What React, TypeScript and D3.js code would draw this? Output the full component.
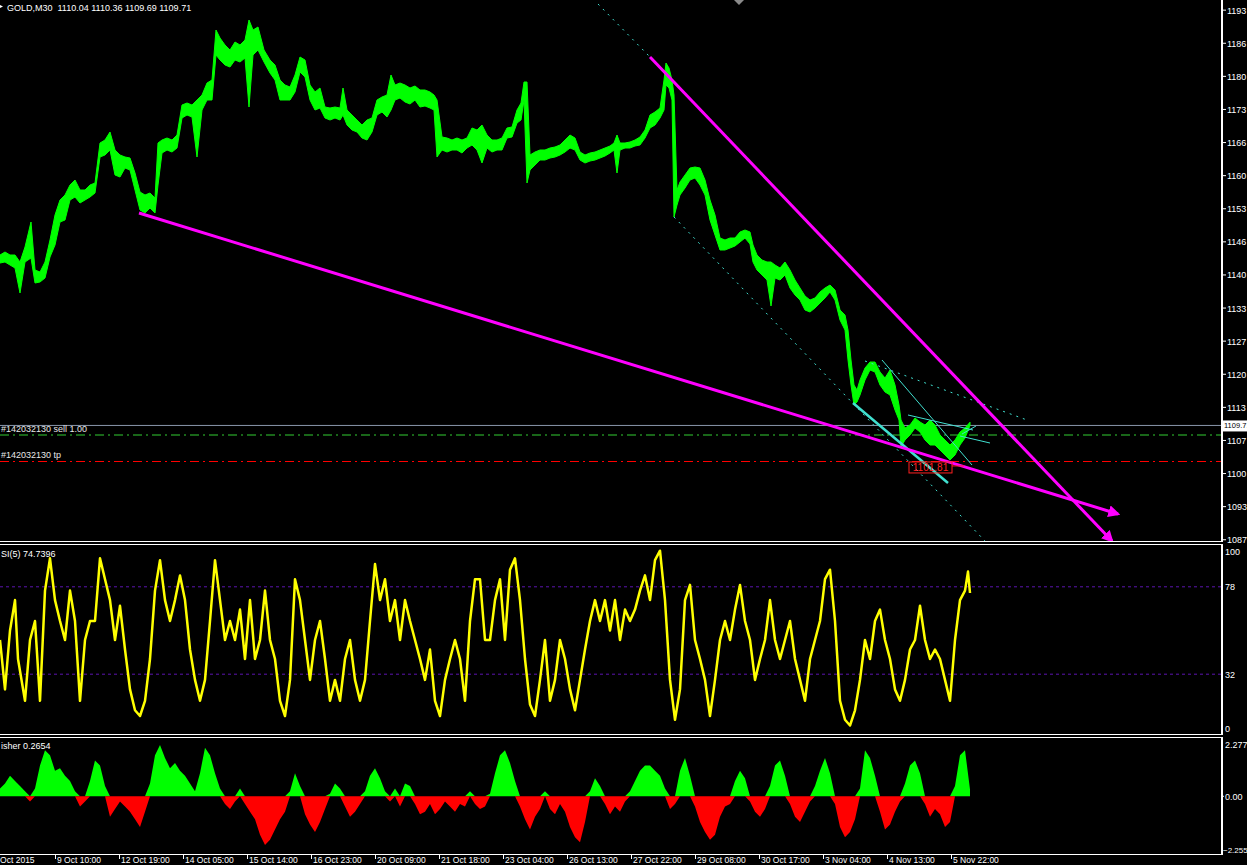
import * as d3 from 'd3'

const W = 1247
const H = 865
const AXIS_X = 1222

// last bar of GOLD M30
const symbol = 'GOLD,M30'
const lastOhlc = [1110.04, 1110.36, 1109.69, 1109.71]

// [bar, high, low], one sample every few bars
const goldBars: [number, number, number][] = [
  [0, 1143.8, 1142.2], [5, 1144.4, 1142.4], [10, 1143.8, 1141.8], [15, 1143.8, 1141.2], [20, 1142.4, 1136.2],
  [25, 1145.4, 1142.4], [31, 1150.4, 1143.2], [35, 1140.8, 1138.2], [40, 1140.4, 1138.4], [45, 1142.4, 1139.2],
  [50, 1146.8, 1143.4], [55, 1151.8, 1145.8], [60, 1154.8, 1150.4], [65, 1155.8, 1150.8], [70, 1157.8, 1154.8],
  [75, 1158.8, 1155.4], [80, 1156.8, 1154.2], [85, 1156.8, 1154.8], [90, 1157.8, 1155.4], [95, 1158.2, 1156.2],
  [100, 1166.2, 1163.4], [105, 1166.8, 1163.8], [110, 1168.4, 1164.8], [115, 1164.8, 1159.8], [120, 1163.8, 1159.4],
  [125, 1163.4, 1161.2], [130, 1163.2, 1160.8], [135, 1160.2, 1156.8], [140, 1156.4, 1152.8], [145, 1155.8, 1152.2],
  [150, 1156.2, 1153.2], [155, 1155.2, 1152.2], [158, 1166.2, 1157.8], [162, 1166.8, 1164.2], [167, 1167.2, 1164.8],
  [172, 1166.8, 1164.4], [177, 1167.8, 1165.2], [182, 1173.8, 1171.2], [187, 1174.2, 1171.8], [192, 1173.8, 1171.4],
  [197, 1174.8, 1163.4], [202, 1175.8, 1172.8], [207, 1178.2, 1174.8], [212, 1178.8, 1174.8], [216, 1188.8, 1183.8],
  [220, 1187.2, 1182.8], [225, 1185.8, 1181.8], [230, 1184.8, 1181.4], [235, 1186.4, 1182.8], [240, 1185.8, 1182.4],
  [245, 1186.8, 1183.2], [249, 1190.8, 1173.4], [253, 1188.8, 1183.8], [258, 1189.4, 1184.8], [264, 1184.8, 1182.4],
  [270, 1182.8, 1180.2], [275, 1181.8, 1178.8], [280, 1178.8, 1174.8], [285, 1177.8, 1174.8], [290, 1177.4, 1174.8],
  [295, 1179.8, 1176.4], [300, 1183.4, 1180.4], [305, 1182.8, 1179.4], [310, 1177.8, 1174.8], [315, 1176.4, 1172.8],
  [320, 1177.2, 1173.2], [325, 1173.4, 1171.2], [330, 1173.2, 1170.8], [335, 1173.4, 1171.2], [340, 1173.2, 1170.8],
  [343, 1177.2, 1171.8], [347, 1172.8, 1169.8], [352, 1171.8, 1168.8], [357, 1170.8, 1168.4], [362, 1169.8, 1167.2],
  [367, 1170.8, 1166.8], [372, 1171.2, 1168.4], [377, 1174.8, 1171.8], [382, 1175.4, 1172.4], [387, 1175.8, 1171.4],
  [391, 1179.8, 1172.8], [395, 1177.8, 1174.8], [400, 1178.2, 1175.2], [405, 1177.8, 1174.4], [410, 1177.2, 1174.0],
  [415, 1177.6, 1174.8], [420, 1176.8, 1173.4], [425, 1176.8, 1173.6], [430, 1176.4, 1173.2], [434, 1175.8, 1172.8],
  [437, 1174.8, 1163.4], [442, 1167.4, 1164.8], [447, 1167.2, 1164.4], [452, 1166.8, 1164.8], [457, 1167.2, 1164.8],
  [462, 1166.8, 1164.2], [467, 1167.2, 1165.2], [472, 1169.2, 1165.8], [477, 1168.8, 1164.8], [482, 1169.8, 1162.2],
  [487, 1167.8, 1165.2], [492, 1166.8, 1164.4], [497, 1166.8, 1164.8], [502, 1167.2, 1164.8], [507, 1169.2, 1167.2],
  [512, 1169.4, 1167.4], [517, 1172.8, 1170.2], [521, 1174.2, 1170.8], [524, 1178.4, 1174.8], [527, 1178.4, 1158.2],
  [530, 1163.8, 1160.8], [535, 1164.4, 1161.8], [540, 1164.8, 1162.8], [545, 1164.8, 1162.8], [550, 1165.2, 1163.2],
  [555, 1165.4, 1163.4], [560, 1165.8, 1163.8], [565, 1166.8, 1164.4], [570, 1167.8, 1165.2], [575, 1167.2, 1164.8],
  [580, 1164.4, 1162.8], [585, 1163.8, 1162.2], [590, 1164.2, 1162.6], [595, 1164.4, 1162.8], [600, 1164.8, 1163.2],
  [605, 1165.2, 1163.6], [610, 1165.6, 1164.2], [614, 1166.2, 1164.8], [617, 1167.8, 1160.2], [620, 1166.2, 1164.8],
  [625, 1166.2, 1165.2], [630, 1166.4, 1165.2], [635, 1166.8, 1165.6], [640, 1167.4, 1165.8], [645, 1168.8, 1167.2],
  [650, 1171.8, 1169.2], [655, 1172.4, 1169.8], [660, 1173.2, 1171.2], [664, 1178.8, 1172.8], [666, 1182.2, 1177.8],
  [669, 1181.2, 1177.2], [672, 1178.8, 1174.8], [674, 1175.8, 1151.4], [677, 1156.8, 1153.8], [680, 1158.4, 1155.8],
  [685, 1159.8, 1157.2], [690, 1161.2, 1158.8], [695, 1161.4, 1159.2], [700, 1161.2, 1157.8], [705, 1158.8, 1155.8],
  [710, 1154.8, 1150.8], [715, 1151.8, 1147.8], [720, 1147.2, 1144.8], [725, 1146.8, 1144.8], [730, 1147.2, 1145.2],
  [735, 1147.2, 1145.6], [740, 1148.4, 1146.4], [745, 1148.8, 1147.2], [750, 1148.4, 1146.0], [753, 1145.8, 1142.4],
  [757, 1143.8, 1140.8], [762, 1142.8, 1139.8], [767, 1142.4, 1138.8], [771, 1142.4, 1133.6], [775, 1141.8, 1139.2],
  [780, 1141.2, 1138.8], [785, 1142.4, 1139.8], [790, 1140.8, 1137.2], [795, 1138.8, 1135.8], [800, 1137.2, 1134.8],
  [805, 1135.6, 1132.8], [810, 1134.8, 1132.4], [815, 1135.2, 1133.2], [820, 1136.4, 1134.2], [825, 1137.2, 1135.2],
  [830, 1137.8, 1136.4], [835, 1136.8, 1134.8], [840, 1132.8, 1130.8], [845, 1131.8, 1128.8], [848, 1128.8, 1122.8],
  [851, 1122.8, 1117.8], [854, 1117.8, 1113.8], [857, 1116.8, 1114.4], [860, 1118.8, 1115.8], [865, 1121.2, 1118.8],
  [870, 1122.4, 1120.8], [875, 1122.4, 1120.4], [880, 1120.4, 1117.8], [885, 1119.2, 1116.4], [890, 1120.8, 1115.8],
  [895, 1117.8, 1112.8], [899, 1113.8, 1110.8], [901, 1110.8, 1105.4], [905, 1109.2, 1106.8], [910, 1109.8, 1107.8],
  [915, 1111.2, 1109.2], [920, 1110.4, 1108.4], [925, 1109.8, 1106.8], [930, 1110.8, 1105.8], [935, 1109.8, 1105.8],
  [940, 1107.8, 1104.8], [945, 1106.8, 1103.8], [950, 1105.8, 1102.8], [955, 1106.8, 1103.8], [960, 1108.4, 1105.8],
  [965, 1109.2, 1107.2], [970, 1110.36, 1109.69],
]

// RSI(5) [bar, value]
const rsiValues: [number, number][] = [
  [0, 50], [5, 24], [10, 55], [15, 71], [18, 40], [25, 18], [30, 50], [35, 60], [40, 18], [45, 76],
  [50, 93], [55, 71], [60, 60], [65, 50], [70, 76], [75, 60], [80, 18], [85, 50], [90, 60], [95, 60],
  [100, 93], [105, 82], [110, 71], [115, 50], [120, 68], [125, 45], [130, 24], [135, 13], [140, 10], [145, 18],
  [150, 40], [155, 76], [160, 92], [165, 71], [170, 60], [175, 71], [180, 84], [185, 71], [190, 45], [195, 29],
  [200, 18], [205, 29], [210, 60], [215, 92], [220, 71], [225, 50], [230, 60], [235, 50], [240, 66], [245, 40],
  [250, 71], [255, 40], [260, 50], [265, 76], [270, 50], [275, 40], [280, 18], [285, 10], [290, 29], [295, 82],
  [300, 71], [305, 50], [310, 29], [315, 50], [320, 60], [325, 40], [330, 18], [335, 29], [340, 18], [345, 40],
  [350, 50], [355, 29], [360, 18], [365, 29], [370, 60], [375, 90], [380, 71], [385, 82], [390, 60], [395, 71],
  [400, 50], [405, 71], [410, 60], [415, 50], [420, 40], [425, 29], [430, 45], [435, 18], [440, 10], [445, 29],
  [450, 40], [455, 50], [460, 40], [465, 18], [470, 60], [475, 82], [480, 82], [485, 50], [490, 50], [495, 71],
  [500, 82], [505, 50], [510, 87], [515, 93], [520, 71], [525, 40], [530, 16], [535, 10], [540, 29], [545, 50],
  [550, 18], [555, 29], [560, 50], [565, 40], [570, 24], [575, 13], [580, 29], [585, 45], [590, 60], [595, 71],
  [600, 60], [605, 71], [610, 55], [615, 71], [620, 50], [625, 66], [630, 60], [635, 66], [640, 76], [645, 84],
  [650, 71], [655, 92], [660, 97], [665, 71], [670, 29], [675, 8], [680, 24], [685, 71], [690, 79], [695, 50],
  [700, 40], [705, 29], [710, 10], [715, 29], [720, 50], [725, 60], [730, 50], [735, 66], [740, 79], [745, 60],
  [750, 50], [755, 29], [760, 40], [765, 50], [770, 71], [775, 50], [780, 40], [785, 50], [790, 60], [795, 40],
  [800, 29], [805, 18], [810, 40], [815, 50], [820, 60], [825, 82], [830, 87], [835, 60], [840, 18], [845, 8],
  [850, 5], [855, 13], [860, 29], [865, 50], [870, 40], [875, 60], [880, 66], [885, 50], [890, 40], [895, 24],
  [900, 18], [905, 29], [910, 45], [915, 50], [920, 68], [925, 50], [930, 40], [935, 45], [940, 40], [945, 29],
  [950, 18], [955, 50], [960, 71], [965, 76], [968, 86], [970, 74.7396],
]

// Fisher transform [bar, value]
const fisherValues: [number, number][] = [
  [0, 0.3], [5, 0.5], [10, 0.8], [15, 0.6], [20, 0.4], [25, 0.2], [30, -0.2], [35, 0.3], [40, 1.2], [45, 1.8],
  [50, 1.6], [55, 1.0], [60, 1.1], [65, 0.8], [70, 0.6], [75, 0.2], [80, -0.4], [85, -0.2], [90, 0.6], [95, 1.4],
  [100, 1.2], [105, 0.4], [110, -0.8], [115, -0.5], [120, -0.2], [125, -0.4], [130, -0.6], [135, -0.9], [140, -1.2], [145, -0.6],
  [150, 0.5], [155, 1.6], [160, 2.0], [165, 1.5], [170, 1.1], [175, 1.3], [180, 1.0], [185, 0.8], [190, 0.5], [195, 0.2],
  [200, 0.9], [205, 1.9], [210, 1.6], [215, 0.9], [220, 0.3], [225, -0.3], [230, -0.5], [235, -0.2], [240, 0.3], [245, -0.3],
  [250, -0.6], [255, -0.9], [260, -1.5], [265, -1.9], [270, -1.7], [275, -1.3], [280, -0.9], [285, -0.6], [290, 0.2], [295, 0.9],
  [300, 0.4], [305, -0.7], [310, -1.1], [315, -1.4], [320, -1.0], [325, -0.5], [330, 0.1], [335, 0.5], [340, 0.3], [345, -0.4],
  [350, -0.8], [355, -0.6], [360, -0.3], [365, 0.2], [370, 0.8], [375, 1.1], [380, 0.7], [385, 0.2], [390, -0.2], [395, 0.3],
  [400, -0.4], [405, 0.5], [410, 0.4], [415, -0.3], [420, -0.7], [425, -0.6], [430, -0.3], [435, -0.7], [440, -0.5], [445, -0.2],
  [450, -0.4], [455, -0.6], [460, -0.3], [465, -0.4], [470, 0.2], [475, -0.3], [480, -0.5], [485, -0.4], [490, 0.1], [495, 0.9],
  [500, 1.6], [505, 1.8], [510, 1.3], [515, 0.6], [520, -0.4], [525, -0.9], [530, -1.3], [535, -0.8], [540, -0.5], [545, 0.2],
  [550, -0.5], [555, -0.7], [560, -0.3], [565, -0.6], [570, -1.2], [575, -1.6], [580, -1.8], [585, -1.0], [590, 0.2], [595, 0.7],
  [600, 0.4], [605, -0.3], [610, -0.7], [615, -0.4], [620, -0.6], [625, -0.2], [630, 0.2], [635, 0.6], [640, 1.0], [645, 1.2],
  [650, 1.2], [655, 1.0], [660, 0.8], [665, 0.3], [670, -0.5], [675, -0.3], [680, 1.0], [685, 1.5], [690, 0.8], [695, -0.4],
  [700, -1.0], [705, -1.4], [710, -1.7], [715, -1.5], [720, -0.8], [725, -0.4], [730, -0.3], [735, 0.6], [740, 1.0], [745, 0.7],
  [750, -0.2], [755, -0.6], [760, -0.8], [765, -0.5], [770, 0.4], [775, 1.2], [780, 1.4], [785, 0.8], [790, -0.3], [795, -0.8],
  [800, -1.0], [805, -0.6], [810, -0.2], [815, 0.4], [820, 1.0], [825, 1.5], [830, 0.9], [835, -0.3], [840, -1.2], [845, -1.6],
  [850, -1.4], [855, -0.9], [860, 0.3], [865, 1.8], [870, 1.5], [875, 0.8], [880, -0.6], [885, -1.3], [890, -1.1], [895, -0.6],
  [900, -0.2], [905, 0.5], [910, 1.2], [915, 1.4], [920, 0.9], [925, -0.3], [930, -0.8], [935, -0.5], [940, -0.7], [945, -1.2],
  [950, -1.0], [955, 0.4], [960, 1.6], [965, 1.8], [970, 0.2654],
]

const priceTicks = [1086.85, 1093.47, 1100.09, 1106.71, 1113.33, 1119.95, 1126.57, 1133.19, 1139.81,
  1146.43, 1153.05, 1159.67, 1166.29, 1172.91, 1179.53, 1186.15, 1192.77]
const rsiLevels = [78, 32]
const fisherTicks = [2.277, 0, -2.255]

const timeTickBars = [-9, 55, 119, 183, 247, 311, 375, 439, 503, 567, 631, 695, 759, 823, 887, 951]
const timeTickLabels = ['8 Oct 2015', '9 Oct 10:00', '12 Oct 19:00', '14 Oct 05:00', '15 Oct 14:00', '16 Oct 23:00',
  '20 Oct 09:00', '21 Oct 18:00', '23 Oct 04:00', '26 Oct 13:00', '27 Oct 22:00', '29 Oct 08:00', '30 Oct 17:00',
  '3 Nov 04:00', '4 Nov 13:00', '5 Nov 22:00']

// order lines
const orderTicket = '#142032130'
const orderOpen = 1107.8
const orderTp = 1102.5
const lowMark = { bar: 909, price: 1101.81 }

// drawn objects, endpoints as [bar, price]
const magentaLines: [number, number][][] = [
  [[139, 1152.2], [1118, 1092.0]],
  [[650, 1183.4], [1112, 1086.6]],
]
const cyanDotted: [number, number][][] = [
  [[598, 1194.0], [650, 1183.4]],
  [[674, 1151.4], [985, 1086.6]],
  [[865, 1122.6], [1027, 1110.8]],
]
const cyanThin: [number, number][][] = [
  [[882, 1122.8], [972, 1101.8]],
  [[908, 1111.8], [973, 1108.8]],
  [[962, 1108.0], [976, 1109.6]],
  [[960, 1107.6], [990, 1106.2]],
]
const cyanThick: [number, number][] = [[853, 1114.2], [948, 1098.2]]

const FONT = "'Liberation Sans', Arial, sans-serif"

export default function App() {
  const x = d3.scaleLinear().domain([0, AXIS_X]).range([0, AXIS_X])
  const yPrice = d3.scaleLinear().domain([1086.8, 1194.8]).range([540, 0])
  const yRsi = d3.scaleLinear().domain([0, 100]).range([735, 545])
  const yFish = d3.scaleLinear().domain([-2.255, 2.277]).range([854, 738])

  const priceArea = d3.area<[number, number, number]>()
    .x(d => x(d[0]))
    .y0(d => yPrice(d[2]))
    .y1(d => yPrice(d[1]))

  const rsiLine = d3.line<[number, number]>().x(d => x(d[0])).y(d => yRsi(d[1]))

  const fishUp = d3.area<[number, number]>().x(d => x(d[0])).y0(yFish(0)).y1(d => yFish(Math.max(0, d[1])))
  const fishDown = d3.area<[number, number]>().x(d => x(d[0])).y0(yFish(0)).y1(d => yFish(Math.min(0, d[1])))

  const seg = d3.line<[number, number]>().x(d => x(d[0])).y(d => yPrice(d[1]))
  const fmt0 = d3.format('.0f')
  const fmt2 = d3.format('.2f')

  const header = `${symbol}  ${lastOhlc.map(fmt2).join(' ')}`
  const bid = lastOhlc[3]

  return (
    <svg width={W} height={H} style={{ position: 'absolute', left: 0, top: 0, display: 'block' }} fontFamily={FONT}>
      <defs>
        <clipPath id="clipMain"><rect x={0} y={0} width={AXIS_X} height={542} /></clipPath>
        <clipPath id="clipRsi"><rect x={0} y={545} width={AXIS_X} height={190} /></clipPath>
        <clipPath id="clipFish"><rect x={0} y={738} width={AXIS_X} height={117} /></clipPath>
        <marker id="arrowMag" viewBox="0 0 10 10" refX={8} refY={5} markerWidth={4} markerHeight={4} orient="auto">
          <path d="M0,0 L10,5 L0,10 z" fill="#ff00ff" />
        </marker>
      </defs>
      <rect width={W} height={H} fill="#000" />

      {/* main window */}
      <g clipPath="url(#clipMain)">
        <line x1={0} x2={AXIS_X} y1={yPrice(bid)} y2={yPrice(bid)} stroke="#8a96aa" strokeWidth={1} />
        <line x1={0} x2={AXIS_X} y1={yPrice(orderOpen)} y2={yPrice(orderOpen)} stroke="#32cd32" strokeDasharray="9,4,2,4" />
        <line x1={0} x2={AXIS_X} y1={yPrice(orderTp)} y2={yPrice(orderTp)} stroke="#ff0000" strokeDasharray="9,4,2,4" />

        <path d={priceArea(goldBars) ?? ''} fill="#00ff00" stroke="#00ff00" strokeWidth={1} strokeLinejoin="round" />

        {cyanDotted.map((l, i) => (
          <path key={'cd' + i} d={seg(l) ?? ''} stroke="#40e0d0" strokeWidth={1} strokeDasharray="2,5" fill="none" />
        ))}
        {cyanThin.map((l, i) => (
          <path key={'ct' + i} d={seg(l) ?? ''} stroke="#40e0d0" strokeWidth={1} fill="none" />
        ))}
        <path d={seg(cyanThick) ?? ''} stroke="#40e0d0" strokeWidth={2.5} fill="none" />

        {magentaLines.map((l, i) => (
          <path key={'m' + i} d={seg(l) ?? ''} stroke="#ff00ff" strokeWidth={3} fill="none" markerEnd="url(#arrowMag)" />
        ))}

        <rect x={x(lowMark.bar)} y={yPrice(lowMark.price) - 3} width={43} height={11} fill="none" stroke="#ff2020" strokeWidth={1} />
        <line x1={x(lowMark.bar) + 43} x2={x(lowMark.bar) + 55} y1={yPrice(lowMark.price) + 1} y2={yPrice(lowMark.price) + 1} stroke="#ff2020" />
        <text x={x(lowMark.bar) + 21.5} y={yPrice(lowMark.price) + 6.5} fill="#ff2020" fontSize={10} textAnchor="middle">{fmt2(lowMark.price)}</text>

        <text x={1} y={yPrice(orderOpen) - 3.5} fill="#e6e6e6" fontSize={9}>{`${orderTicket} sell 1.00`}</text>
        <text x={1} y={yPrice(orderTp) - 3.5} fill="#e6e6e6" fontSize={9}>{`${orderTicket} tp`}</text>
      </g>

      <text x={7} y={11} fill="#ffffff" fontSize={9} style={{ whiteSpace: 'pre' }}>{header}</text>
      <path d="M0,5 L3,6.5 L0,8 z" fill="#ffffff" />
      <path d="M734,0 L744,0 L739,5 z" fill="#8a8a8a" />

      {/* RSI window */}
      <g clipPath="url(#clipRsi)">
        {rsiLevels.map(v => (
          <line key={v} x1={0} x2={AXIS_X} y1={yRsi(v)} y2={yRsi(v)} stroke="#5c14b0" strokeDasharray="3,3" />
        ))}
        <path d={rsiLine(rsiValues) ?? ''} fill="none" stroke="#ffff00" strokeWidth={2.5} strokeLinejoin="round" />
      </g>
      <text x={1} y={557} fill="#ffffff" fontSize={9}>{`SI(5) ${rsiValues[rsiValues.length - 1][1]}`}</text>

      {/* Fisher window */}
      <g clipPath="url(#clipFish)">
        <path d={fishUp(fisherValues) ?? ''} fill="#00ff00" />
        <path d={fishDown(fisherValues) ?? ''} fill="#ff0000" />
      </g>
      <text x={1} y={749} fill="#ffffff" fontSize={9}>{`isher ${fisherValues[fisherValues.length - 1][1]}`}</text>

      {/* panel frames */}
      <g stroke="#ffffff" strokeWidth={1} fill="none">
        <line x1={0} x2={AXIS_X} y1={541.5} y2={541.5} />
        <line x1={0} x2={AXIS_X} y1={544.5} y2={544.5} />
        <line x1={0} x2={AXIS_X} y1={734.5} y2={734.5} />
        <line x1={0} x2={AXIS_X} y1={737.5} y2={737.5} />
        <line x1={0} x2={AXIS_X} y1={854.5} y2={854.5} />
      </g>
      <rect x={AXIS_X - 1} y={0} width={2} height={542} fill="#ffffff" />
      <rect x={AXIS_X - 1} y={544} width={2} height={191} fill="#ffffff" />
      <rect x={AXIS_X - 1} y={737} width={2} height={118} fill="#ffffff" />

      {/* price axis */}
      {priceTicks.map(t => (
        <g key={t}>
          <line x1={AXIS_X} x2={AXIS_X + 4} y1={yPrice(t)} y2={yPrice(t)} stroke="#ffffff" />
          <text x={AXIS_X + 5} y={yPrice(t) + 3.5} fill="#ffffff" fontSize={9}>{fmt0(t)}</text>
        </g>
      ))}
      <rect x={AXIS_X + 1} y={yPrice(bid) - 5} width={30} height={11} fill="#ffffff" />
      <text x={AXIS_X + 2} y={yPrice(bid) + 3} fill="#000000" fontSize={7.5}>{fmt2(bid)}</text>

      {/* RSI axis */}
      <text x={AXIS_X + 3} y={555} fill="#ffffff" fontSize={9}>100</text>
      {rsiLevels.map(v => (
        <text key={v} x={AXIS_X + 3} y={yRsi(v) + 3.5} fill="#ffffff" fontSize={9}>{v}</text>
      ))}
      <text x={AXIS_X + 3} y={732} fill="#ffffff" fontSize={9}>0</text>

      {/* Fisher axis */}
      {fisherTicks.map((t, i) => (
        <text key={t} x={i === 2 ? AXIS_X + 1 : AXIS_X + 3} y={i === 0 ? 747.5 : i === 2 ? 853 : yFish(t) + 3.5}
          fill="#ffffff" fontSize={i === 2 ? 8 : 9}>
          {t === 0 ? '0.00' : d3.format('.3f')(t)}
        </text>
      ))}
      <line x1={AXIS_X} x2={AXIS_X + 2} y1={yFish(0)} y2={yFish(0)} stroke="#ffffff" />

      {/* time axis */}
      {timeTickBars.map((b, i) => (
        <g key={b}>
          <line x1={x(b) + 0.5} x2={x(b) + 0.5} y1={855} y2={859} stroke="#ffffff" />
          <text x={x(b) + 2} y={863} fill="#ffffff" fontSize={8.5}>{timeTickLabels[i]}</text>
        </g>
      ))}
    </svg>
  )
}
